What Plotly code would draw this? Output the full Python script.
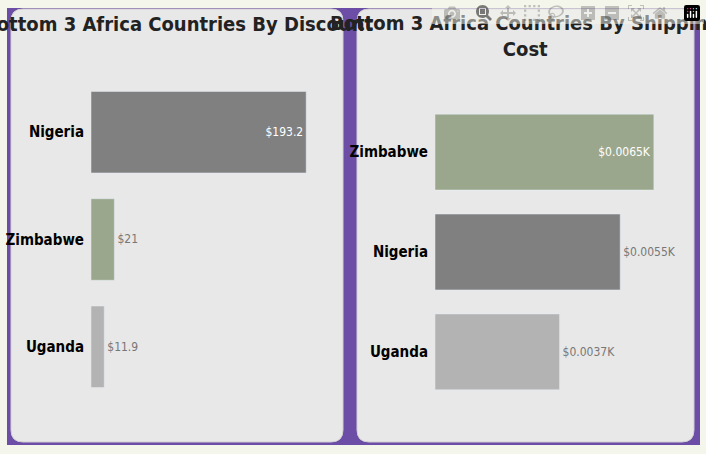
import plotly.graph_objects as go

# Discount chart
disc_countries = ["Nigeria", "Zimbabwe", "Uganda"]
disc_values = [193.2, 21, 11.9]
disc_labels = ["$193.2", "$21", "$11.9"]

# Shipping cost chart
ship_countries = ["Zimbabwe", "Nigeria", "Uganda"]
ship_values = [6.5, 5.5, 3.7]
ship_labels = ["$0.0065K", "$0.0055K", "$0.0037K"]

colors = {"Nigeria": "#808080", "Zimbabwe": "#9ba78c", "Uganda": "#b3b3b3"}
FONT = "Liberation Sans Narrow, DejaVu Sans Condensed, sans-serif"

def rounded(x0, y0, x1, y1, r):
    W, H = 706, 454
    def p(x, y):
        return f"{x / W:.5f},{1 - y / H:.5f}"
    return (f"M {p(x0 + r, y0)} L {p(x1 - r, y0)} Q {p(x1, y0)} {p(x1, y0 + r)} "
            f"L {p(x1, y1 - r)} Q {p(x1, y1)} {p(x1 - r, y1)} L {p(x0 + r, y1)} "
            f"Q {p(x0, y1)} {p(x0, y1 - r)} L {p(x0, y0 + r)} Q {p(x0, y0)} {p(x0 + r, y0)} Z")

fig = go.Figure()

fig.add_trace(go.Bar(
    x=disc_values, y=disc_countries, orientation="h",
    marker=dict(color=[colors[c] for c in disc_countries]),
    text=disc_labels, textposition=["inside", "outside", "outside"],
    insidetextanchor="end", cliponaxis=False,
    textfont=dict(family=FONT, size=12, color=["white", "#777777", "#777777"]),
    xaxis="x", yaxis="y", hoverinfo="skip"))

fig.add_trace(go.Bar(
    x=ship_values, y=ship_countries, orientation="h",
    marker=dict(color=[colors[c] for c in ship_countries]),
    text=ship_labels, textposition=["inside", "outside", "outside"],
    insidetextanchor="end", cliponaxis=False,
    textfont=dict(family=FONT, size=12, color=["white", "#777777", "#777777"]),
    xaxis="x2", yaxis="y2", hoverinfo="skip"))

axis_common = dict(showgrid=False, zeroline=False, showline=False)
tick_font = dict(family=FONT, size=15, color="black", weight="bold")
fig.update_layout(
    width=706, height=454,
    margin=dict(l=0, r=0, t=0, b=0),
    paper_bgcolor="#f4f6ec", plot_bgcolor="rgba(0,0,0,0)",
    showlegend=False, bargap=0.24,
    font=dict(family=FONT),
    xaxis=dict(domain=[91 / 706, 0.476], range=[0, 220], showticklabels=False, **axis_common),
    yaxis=dict(domain=[0.118, 0.827], autorange="reversed", anchor="x",
               tickfont=tick_font, ticks="", ticklabelstandoff=6, **axis_common),
    xaxis2=dict(domain=[435 / 706, 0.950], range=[0, 7], showticklabels=False, anchor="y2", **axis_common),
    yaxis2=dict(domain=[0.115, 0.775], autorange="reversed", anchor="x2",
                tickfont=tick_font, ticks="", ticklabelstandoff=6, **axis_common),
    shapes=[
        dict(type="rect", xref="paper", yref="paper", x0=7 / 706, x1=700 / 706,
             y0=1 - 445 / 454, y1=1 - 8 / 454, fillcolor="#6c4ea6", line_width=0, layer="below"),
        dict(type="path", xref="paper", yref="paper", path=rounded(11, 9, 343, 442, 12),
             fillcolor="#e8e8e8", line=dict(color="#d0d0d0", width=1), layer="below"),
        dict(type="path", xref="paper", yref="paper", path=rounded(357, 9, 694, 442, 12),
             fillcolor="#e8e8e8", line=dict(color="#d0d0d0", width=1), layer="below"),
    ],
    annotations=[
        dict(text="<b>Bottom 3 Africa Countries By Discount</b>", xref="paper", yref="paper",
             x=178 / 706, y=1 - 24 / 454, xanchor="center", yanchor="middle",
             showarrow=False, font=dict(family=FONT, size=20, color="#222222")),
        dict(text="<b>Bottom 3 Africa Countries By Shipping<br>Cost</b>", xref="paper", yref="paper",
             x=525 / 706, y=1 - 36 / 454, xanchor="center", yanchor="middle",
             showarrow=False, font=dict(family=FONT, size=20, color="#222222")),
    ],
)

fig.write_html("out.html", post_script="document.body.style.margin='0';document.body.style.background='#f4f6ec';")
